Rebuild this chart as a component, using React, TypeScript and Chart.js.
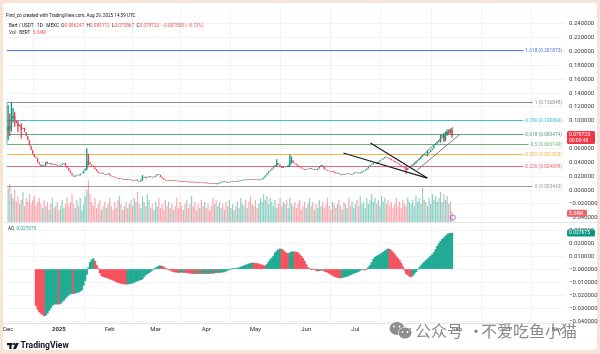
import React, { useEffect, useRef } from 'react';
import { Chart, registerables } from 'chart.js';
Chart.register(...registerables);

// ---------- DATA (day index 0 = 1 Dec 2024, last = 29 Aug 2025) ----------
const firstOpen = 0.085;
const closes = [
  0.092, 0.088, 0.104, 0.107, 0.100, 0.097, 0.092, 0.094, 0.088, 0.090,
  0.084, 0.078, 0.072, 0.064, 0.058, 0.052, 0.048, 0.046, 0.040, 0.037,
  0.034, 0.036, 0.035, 0.041, 0.038, 0.039, 0.037, 0.038, 0.036, 0.037,
  0.035, 0.034, 0.036, 0.038, 0.039, 0.035, 0.032, 0.028, 0.025, 0.021,
  0.019, 0.021, 0.022, 0.021, 0.023, 0.024, 0.028, 0.031, 0.042, 0.040,
  0.037, 0.035, 0.033, 0.030, 0.027, 0.025, 0.024, 0.025, 0.023, 0.022,
  0.023, 0.024, 0.021, 0.020, 0.019, 0.018, 0.017, 0.016, 0.0165, 0.016,
  0.015, 0.016, 0.015, 0.0145, 0.015, 0.014, 0.0135, 0.014, 0.015, 0.013,
  0.012, 0.015, 0.018, 0.019, 0.017, 0.018, 0.020, 0.019, 0.018, 0.019,
  0.021, 0.023, 0.022, 0.019, 0.017, 0.015, 0.014, 0.013, 0.0135, 0.013,
  0.0128, 0.0132, 0.013, 0.0125, 0.0122, 0.012, 0.0118, 0.0115, 0.0118, 0.0116,
  0.0112, 0.011, 0.0113, 0.011, 0.0108, 0.0105, 0.0102, 0.0104, 0.010, 0.0098,
  0.0101, 0.0099, 0.0095, 0.0092, 0.009, 0.0086, 0.0088, 0.0085, 0.009, 0.0105,
  0.012, 0.0115, 0.0118, 0.011, 0.0108, 0.0112, 0.0115, 0.0118, 0.0122, 0.012,
  0.0125, 0.013, 0.0135, 0.014, 0.0145, 0.0142, 0.015, 0.0148, 0.0145, 0.015,
  0.0147, 0.0145, 0.014, 0.0143, 0.015, 0.016, 0.018, 0.021, 0.024, 0.027,
  0.029, 0.031, 0.034, 0.036, 0.039, 0.037, 0.034, 0.032, 0.033, 0.034,
  0.033, 0.036, 0.041, 0.043, 0.039, 0.038, 0.036, 0.034, 0.033, 0.031,
  0.030, 0.029, 0.030, 0.031, 0.032, 0.030, 0.029, 0.030, 0.029, 0.031,
  0.034, 0.036, 0.034, 0.030, 0.029, 0.028, 0.027, 0.026, 0.027, 0.025,
  0.024, 0.025, 0.023, 0.022, 0.023, 0.022, 0.023, 0.024, 0.023, 0.022,
  0.023, 0.025, 0.026, 0.025, 0.024, 0.025, 0.027, 0.028, 0.029, 0.031,
  0.034, 0.036, 0.037, 0.039, 0.040, 0.038, 0.041, 0.043, 0.044, 0.046,
  0.048, 0.047, 0.046, 0.045, 0.043, 0.042, 0.040, 0.039, 0.038, 0.036,
  0.034, 0.033, 0.031, 0.029, 0.032, 0.033, 0.035, 0.036, 0.038, 0.041,
  0.043, 0.045, 0.048, 0.050, 0.051, 0.050, 0.053, 0.055, 0.058, 0.060,
  0.065, 0.067, 0.069, 0.072, 0.077, 0.080, 0.072, 0.081, 0.084, 0.083,
  0.086247, 0.078723,
];
// notable wicks: [day, low, high]
const wicks: [number, number, number][] = [
  [0, 0.072, 0.122], [1, 0.078, 0.110], [2, 0.085, 0.1268], [3, 0.098, 0.118],
  [4, 0.092, 0.112], [6, 0.084, 0.100], [8, 0.075, 0.096], [48, 0.029, 0.060],
  [49, 0.036, 0.052], [82, 0.014, 0.021], [164, 0.034, 0.044], [172, 0.035, 0.051],
  [173, 0.039, 0.048], [243, 0.024, 0.033], [256, 0.049, 0.057], [264, 0.069, 0.080],
  [266, 0.070, 0.082], [267, 0.071, 0.084], [268, 0.079, 0.087], [269, 0.080, 0.087],
  [270, 0.082, 0.088], [271, 0.075867, 0.089172],
];
// volume (millions of BERT)
const volumes = [
  17, 19, 14, 12, 16, 10, 13, 9, 11, 15,
  8, 12, 10, 14, 9, 11, 13, 8, 10, 12,
  9, 7, 11, 8, 10, 6, 9, 12, 7, 8,
  10, 6, 8, 11, 7, 9, 12, 8, 10, 14,
  9, 7, 11, 8, 12, 6, 9, 13, 16, 21,
  14, 10, 8, 12, 7, 9, 11, 6, 8, 10,
  7, 9, 12, 8, 6, 10, 7, 11, 13, 9,
  6, 8, 10, 7, 9, 11, 8, 12, 10, 15,
  9, 7, 13, 10, 8, 14, 11, 7, 9, 6,
  10, 8, 12, 7, 9, 6, 11, 8, 10, 7,
  9, 6, 8, 12, 7, 10, 8, 6, 9, 11,
  7, 9, 13, 8, 10, 6, 9, 7, 11, 8,
  10, 7, 9, 6, 8, 12, 9, 11, 8, 10,
  7, 9, 6, 10, 8, 11, 7, 9, 6, 8,
  10, 7, 12, 9, 8, 11, 7, 10, 13, 9,
  8, 11, 7, 9, 12, 10, 14, 11, 13, 9,
  12, 10, 8, 11, 7, 9, 12, 8, 10, 9,
  11, 7, 12, 9, 8, 10, 7, 9, 11, 6,
  8, 10, 7, 9, 12, 8, 10, 6, 9, 7,
  11, 8, 10, 7, 9, 12, 8, 6, 10, 9,
  7, 9, 11, 8, 6, 10, 9, 7, 12, 8,
  10, 7, 9, 11, 8, 13, 9, 10, 7, 12,
  9, 11, 14, 10, 12, 9, 11, 8, 13, 10,
  12, 9, 11, 8, 10, 7, 9, 12, 8, 10,
  7, 11, 9, 8, 12, 10, 9, 11, 8, 13,
  10, 12, 9, 17, 11, 10, 8, 12, 9, 14,
  11, 13, 10, 12, 15, 10, 14, 11, 13, 9,
  10, 5.34,
];
const aoStartDay = 17;
const aoValues = [
  -0.028, -0.031, -0.033,
  -0.034, -0.035, -0.036, -0.0355, -0.034, -0.032, -0.030, -0.028, -0.027, -0.027,
  -0.0268, -0.027, -0.0265, -0.025, -0.024, -0.0225, -0.021, -0.020, -0.019, -0.0188,
  -0.019, -0.0185, -0.018, -0.0178, -0.017, -0.016, -0.0125, -0.009, -0.004, 0.001,
  0.005, 0.007, 0.008, 0.006, 0.003, 0.0005, -0.003, -0.005, -0.0058, -0.0062,
  -0.0066, -0.007, -0.0075, -0.008, -0.0085, -0.009, -0.0098, -0.0103, -0.0107, -0.011,
  -0.0113, -0.0115, -0.0116, -0.0115, -0.0113, -0.011, -0.0108, -0.0102, -0.0095, -0.009,
  -0.0086, -0.0082, -0.0075, -0.0058, -0.0045, -0.0035, -0.0028, -0.0018, -0.0008, 0.0,
  0.0008, 0.0015, 0.0022, 0.0025, 0.0022, 0.0015, 0.0008, 0.0, -0.0005, -0.001,
  -0.0015, -0.002, -0.0023, -0.0025, -0.0026, -0.0025, -0.0024, -0.0027, -0.0026, -0.0028,
  -0.003, -0.0032, -0.0033, -0.0035, -0.0034, -0.0035, -0.0036, -0.0034, -0.0035, -0.0035,
  -0.0034, -0.0033, -0.0035, -0.0034, -0.0032, -0.0033, -0.003, -0.0028, -0.0026, -0.0027,
  -0.0025, -0.0023, -0.0022, -0.0015, -0.001, -0.0005, 0.0, 0.0002, 0.0004, 0.0005,
  0.0006, 0.001, 0.0015, 0.002, 0.0025, 0.003, 0.0035, 0.004, 0.0044, 0.0047,
  0.0046, 0.0043, 0.0042, 0.004, 0.0035, 0.003, 0.0027, 0.0025, 0.0035, 0.0055,
  0.0072, 0.0085, 0.010, 0.0125, 0.0138, 0.0148, 0.0155, 0.0152, 0.0142, 0.013,
  0.0122, 0.0118, 0.0125, 0.0132, 0.0133, 0.0132, 0.013, 0.0125, 0.0112, 0.0098,
  0.0082, 0.006, 0.0035, 0.0012, 0.0003, -0.0002, 0.0, -0.0005, -0.001, -0.0015,
  -0.0012, -0.0008, -0.001, -0.0015, -0.002, -0.0025, -0.0033, -0.004, -0.0048, -0.0055,
  -0.006, -0.0064, -0.0067, -0.0068, -0.0065, -0.0062, -0.0058, -0.0055, -0.005, -0.0044,
  -0.0038, -0.0033, -0.0028, -0.0023, -0.0018, -0.001, -0.0003, -0.0005, -0.0008, 0.0,
  0.0015, 0.0028, 0.005, 0.0075, 0.009, 0.0098, 0.0105, 0.0112, 0.012, 0.013,
  0.014, 0.0148, 0.0155, 0.0152, 0.0142, 0.0128, 0.0112, 0.0095, 0.0082, 0.0065,
  0.0045, 0.0018, -0.001, -0.0035, -0.0045, -0.0055, -0.006, -0.005, -0.0035, -0.002,
  -0.0005, 0.001, 0.0025, 0.004, 0.0052, 0.0065, 0.0075, 0.0088, 0.010, 0.0112,
  0.0128, 0.015, 0.0175, 0.0195, 0.0213, 0.0228, 0.024, 0.0252, 0.0265, 0.0272,
  0.0275, 0.027675,
];
const monthTicks = [0, 31, 62, 90, 121, 151, 182, 212, 243, 274, 304, 335];
const monthLabels = ['Dec', '2025', 'Feb', 'Mar', 'Apr', 'May', 'Jun', 'Jul', 'Aug', 'Sep', 'Oct', 'Nov'];
const priceTicks = [0.24, 0.22, 0.2, 0.18, 0.16, 0.14, 0.12, 0.1, 0.08, 0.06, 0.04, 0.02, 0, -0.02, -0.04];
const aoTicks = [0.03, 0.02, 0.01, 0, -0.01, -0.02, -0.03, -0.04];
const fibLabels = ['1.618', '1', '0.786', '0.618', '0.5', '0.382', '0.236', '0'];
const fibPrices = [0.201873, 0.126848, 0.100869, 0.080474, 0.06614, 0.051823, 0.034098, 0.005443];
const fibColors = ['#4f79ee', '#8a8d96', '#3fc0d6', '#5fa58e', '#72b176', '#f2b443', '#e4687a', '#9a9ca4'];
const fibAnchorDay = -0.7;
const wedgeLines: [number, number][][] = [
  [[204.7, 0.0535], [255.9, 0.0173]],
  [[221.2, 0.0679], [255.9, 0.0173]],
];
const channelLines: [number, number][][] = [
  [[245.5, 0.0332], [271.7, 0.091]],
  [[249.8, 0.0289], [276.0, 0.0809]],
];
const lastVolumeLabel = '5.34M';
const aoLast = 0.027675;
const lastClose = 0.078723;

// ---------- STYLE ----------
const FONT = 'Roboto, "Liberation Sans", sans-serif';
const UP = '#089981';
const DOWN = '#f23645';
const PRICE_MIN = -0.0462;
const PRICE_MAX = 0.263;
const AO_MIN = -0.0415;
const AO_MAX = 0.0362;
const VOL_UNIT = 0.00289; // price units per million in the volume overlay
const FIB_LABEL_RIGHT = 562;

const fmt = (v: number) => (v < 0 ? '\u2212' : '') + Math.abs(v).toFixed(6);

function drawSegs(ctx: CanvasRenderingContext2D, x: number, y: number, segs: [string, string][]) {
  let cx = x;
  for (const [t, c] of segs) {
    ctx.fillStyle = c;
    ctx.fillText(t, cx, y);
    cx += ctx.measureText(t).width;
  }
}

function seg(ctx: CanvasRenderingContext2D, x1: number, y1: number, x2: number, y2: number) {
  ctx.beginPath();
  ctx.moveTo(x1, y1);
  ctx.lineTo(x2, y2);
  ctx.stroke();
}

function tag(ctx: CanvasRenderingContext2D, x: number, y: number, w: number, h: number, color: string) {
  ctx.fillStyle = color;
  ctx.beginPath();
  (ctx as any).roundRect(x, y, w, h, 1.5);
  ctx.fill();
}

const overlay = {
  id: 'overlay',
  beforeDraw(chart: any) {
    const { ctx, width, height } = chart;
    ctx.save();
    ctx.fillStyle = '#f6e4d7';
    ctx.fillRect(0, 0, width, height);
    ctx.fillStyle = '#ffffff';
    ctx.beginPath();
    ctx.roundRect(3, 3, 594, 347, 4);
    ctx.fill();
    ctx.restore();
  },
  beforeDatasetsDraw(chart: any) {
    const { ctx } = chart;
    const { x, y, yAO } = chart.scales;
    ctx.save();
    ctx.strokeStyle = '#e4e6ec';
    ctx.lineWidth = 1;
    const sepY = Math.round(y.bottom) + 0.5;
    seg(ctx, 3, sepY, 597, sepY);
    const axY = Math.round(yAO.bottom) + 0.5;
    seg(ctx, 3, axY, 597, axY);

    const x0 = x.getPixelForValue(fibAnchorDay);
    ctx.font = `4.8px ${FONT}`;
    ctx.textAlign = 'right';
    ctx.textBaseline = 'middle';
    fibPrices.forEach((p, i) => {
      const py = Math.round(y.getPixelForValue(p)) + 0.5;
      const label = `${fibLabels[i]} (${p.toFixed(6)})`;
      const w = ctx.measureText(label).width;
      ctx.strokeStyle = fibColors[i];
      ctx.lineWidth = 1.1;
      seg(ctx, x0, py, FIB_LABEL_RIGHT - w - 2, py);
      ctx.fillStyle = fibColors[i];
      ctx.fillText(label, FIB_LABEL_RIGHT, py);
    });
    ctx.strokeStyle = '#8fb3a0';
    ctx.lineWidth = 1;
    seg(ctx, x0, y.getPixelForValue(fibPrices[1]), x0, y.getPixelForValue(fibPrices[4]));
    ctx.restore();
  },
  afterDatasetsDraw(chart: any) {
    const { ctx } = chart;
    const { x, y } = chart.scales;
    ctx.save();
    ctx.strokeStyle = '#1b1d24';
    ctx.lineWidth = 1.2;
    for (const l of wedgeLines) {
      seg(ctx, x.getPixelForValue(l[0][0]), y.getPixelForValue(l[0][1]), x.getPixelForValue(l[1][0]), y.getPixelForValue(l[1][1]));
    }
    ctx.strokeStyle = '#6a6d78';
    ctx.lineWidth = 0.9;
    for (const l of channelLines) {
      seg(ctx, x.getPixelForValue(l[0][0]), y.getPixelForValue(l[0][1]), x.getPixelForValue(l[1][0]), y.getPixelForValue(l[1][1]));
    }
    // event marker
    ctx.strokeStyle = '#9c4dcc';
    ctx.lineWidth = 0.8;
    ctx.beginPath();
    ctx.arc(x.getPixelForValue(closes.length - 0.5), y.bottom - 4.5, 2.6, 0, Math.PI * 2);
    ctx.stroke();
    ctx.restore();
  },
  afterDraw(chart: any) {
    const { ctx } = chart;
    const { y, yAO } = chart.scales;
    ctx.save();
    ctx.textBaseline = 'middle';
    ctx.textAlign = 'left';
    // header
    ctx.font = `4.6px ${FONT}`;
    drawSegs(ctx, 6, 16, [['Find_zo created with TradingView.com, Aug 29, 2025 14:59 UTC', '#131722']]);
    ctx.font = `4.7px ${FONT}`;
    const red = '#ef5350';
    drawSegs(ctx, 9, 26, [
      ['Bert / USDT \u00b7 1D \u00b7 MEXC  ', '#131722'],
      ['O', '#131722'], ['0.086247', red],
      ['  H', '#131722'], ['0.089172', red],
      ['  L', '#131722'], ['0.075867', red],
      ['  C', '#131722'], ['0.078723', red],
      ['  \u22120.007558 (\u22128.73%)', red],
    ]);
    drawSegs(ctx, 9, 33, [['Vol \u00b7 BERT  ', '#131722'], ['5.34M', red]]);
    drawSegs(ctx, 8, 229, [['AO  ', '#131722'], [aoLast.toFixed(6), '#22ab94']]);

    // tags
    const tx = 567;
    const py = y.getPixelForValue(lastClose);
    tag(ctx, tx, py - 4.5, 28, 13, DOWN);
    ctx.fillStyle = '#fff';
    ctx.font = `5px ${FONT}`;
    ctx.fillText(fmt(lastClose), tx + 2, py - 0.5);
    ctx.fillText('00:00:48', tx + 2, py + 5);
    const vy = y.getPixelForValue(PRICE_MIN + volumes[volumes.length - 1] * VOL_UNIT) + 2;
    tag(ctx, tx, vy - 3.5, 20, 7, '#f0616a');
    ctx.fillStyle = '#fff';
    ctx.fillText(lastVolumeLabel, tx + 2, vy);
    const ay = yAO.getPixelForValue(aoLast);
    tag(ctx, tx, ay - 3.5, 28, 7, UP);
    ctx.fillStyle = '#fff';
    ctx.fillText(fmt(aoLast), tx + 2, ay);

    // TradingView logo
    ctx.fillStyle = '#131722';
    ctx.fillRect(7, 343, 5.5, 2.2);
    ctx.fillRect(9.3, 343, 2.3, 6);
    ctx.beginPath();
    ctx.arc(14, 344.1, 1.15, 0, Math.PI * 2);
    ctx.fill();
    ctx.beginPath();
    ctx.moveTo(15.8, 343);
    ctx.lineTo(18.8, 343);
    ctx.lineTo(16, 349);
    ctx.lineTo(13, 349);
    ctx.closePath();
    ctx.fill();
    ctx.font = `bold 8.6px ${FONT}`;
    ctx.fillText('TradingView', 20.5, 346.3);

    // watermark
    ctx.fillStyle = '#8e8e8e';
    ctx.beginPath();
    ctx.ellipse(397, 328.5, 7.5, 6.5, 0, 0, Math.PI * 2);
    ctx.fill();
    ctx.strokeStyle = '#ffffff';
    ctx.lineWidth = 1.2;
    ctx.beginPath();
    ctx.ellipse(405, 333, 6.5, 5.5, 0, 0, Math.PI * 2);
    ctx.stroke();
    ctx.fillStyle = '#8e8e8e';
    ctx.fill();
    ctx.fillStyle = '#ffffff';
    for (const [cx, cy] of [[394, 326.5], [399.5, 326.5], [402.5, 332], [407.5, 332]]) {
      ctx.beginPath();
      ctx.arc(cx, cy, 0.9, 0, Math.PI * 2);
      ctx.fill();
    }
    ctx.fillStyle = '#8a8a8a';
    ctx.font = `16px "Noto Sans CJK SC", sans-serif`;
    ctx.fillText('\u516c\u4f17\u53f7', 415, 331);
    ctx.fillText('\u00b7', 468, 331);
    ctx.fillText('\u4e0d\u7231\u5403\u9c7c\u5c0f\u732b', 481, 331);
    ctx.restore();
  },
};

export default function App() {
  const ref = useRef<HTMLCanvasElement>(null);
  useEffect(() => {
    document.body.style.margin = '0';
    const opens = closes.map((c, i) => (i === 0 ? firstOpen : closes[i - 1]));
    const up = closes.map((c, i) => c >= opens[i]);
    const aoUp = aoValues.map((v, i) => (i === 0 ? false : v >= aoValues[i - 1]));
    const wickUp = wicks.map(([d]) => up[d]);

    const chart = new Chart(ref.current as HTMLCanvasElement, {
      type: 'bar',
      data: {
        datasets: [
          {
            label: 'Volume',
            yAxisID: 'y',
            data: volumes.map((v, i) => ({ x: i, y: [PRICE_MIN, PRICE_MIN + v * VOL_UNIT] })) as any,
            backgroundColor: volumes.map((_, i) => (up[i] ? 'rgba(8,153,129,0.45)' : 'rgba(242,54,69,0.42)')),
            barPercentage: 0.75,
            categoryPercentage: 1,
            grouped: false,
            order: 4,
          },
          {
            label: 'Wicks',
            yAxisID: 'y',
            data: wicks.map(([d, l, h]) => ({ x: d, y: [l, h] })) as any,
            backgroundColor: wickUp.map((u) => (u ? UP : DOWN)),
            barThickness: 0.6,
            grouped: false,
            order: 3,
          },
          {
            label: 'Candles',
            yAxisID: 'y',
            data: closes.map((c, i) => ({ x: i, y: [opens[i], c] })) as any,
            backgroundColor: up.map((u) => (u ? UP : DOWN)),
            barPercentage: 0.8,
            categoryPercentage: 1,
            minBarLength: 0.8,
            grouped: false,
            order: 2,
          },
          {
            label: 'AO',
            yAxisID: 'yAO',
            data: aoValues.map((v, i) => ({ x: aoStartDay + i, y: v })) as any,
            backgroundColor: aoUp.map((u) => (u ? '#22ab94' : '#f7525f')),
            barPercentage: 1,
            categoryPercentage: 1,
            grouped: false,
            order: 1,
          },
        ],
      },
      options: {
        responsive: false,
        devicePixelRatio: 1,
        animation: false,
        events: [],
        layout: { padding: { left: 5, top: 8, right: 0, bottom: 17 } },
        plugins: { legend: { display: false }, tooltip: { enabled: false } },
        scales: {
          x: {
            type: 'linear',
            min: -1.28,
            max: 340,
            offset: false,
            afterBuildTicks: (axis: any) => {
              axis.ticks = monthTicks.map((v) => ({ value: v }));
            },
            afterFit: (axis: any) => {
              axis.height = 14;
            },
            ticks: {
              autoSkip: false,
              maxRotation: 0,
              padding: 3,
              color: '#2a2e39',
              font: (c: any) => ({ size: 6, family: FONT, weight: c.tick && c.tick.label === '2025' ? 'bold' : 'normal' }),
              callback: (v: any) => monthLabels[monthTicks.indexOf(Number(v))] ?? '',
            },
            grid: { color: '#f1f2f5', drawTicks: false },
            border: { display: false },
          },
          y: {
            type: 'linear',
            position: 'right',
            stack: 'panes',
            stackWeight: 214,
            min: PRICE_MIN,
            max: PRICE_MAX,
            afterBuildTicks: (axis: any) => {
              axis.ticks = priceTicks.map((v) => ({ value: v }));
            },
            afterFit: (axis: any) => {
              axis.width = 35;
            },
            ticks: {
              autoSkip: false,
              padding: 4,
              color: '#3a3d45',
              font: { size: 6, family: FONT },
              callback: (v: any) => fmt(Number(v)),
            },
            grid: { color: '#f3f4f6', drawTicks: false },
            border: { display: false },
          },
          yAO: {
            type: 'linear',
            position: 'right',
            stack: 'panes',
            stackWeight: 101,
            min: AO_MIN,
            max: AO_MAX,
            afterBuildTicks: (axis: any) => {
              axis.ticks = aoTicks.map((v) => ({ value: v }));
            },
            afterFit: (axis: any) => {
              axis.width = 35;
            },
            ticks: {
              autoSkip: false,
              padding: 4,
              color: '#3a3d45',
              font: { size: 6, family: FONT },
              callback: (v: any) => (Number(v) === 0 ? '\u22120.000000' : fmt(Number(v))),
            },
            grid: { color: '#f3f4f6', drawTicks: false },
            border: { display: false },
          },
        },
      } as any,
      plugins: [overlay],
    });
    return () => chart.destroy();
  }, []);
  return <canvas ref={ref} width={600} height={354} style={{ display: 'block', width: 600, height: 354 }} />;
}
